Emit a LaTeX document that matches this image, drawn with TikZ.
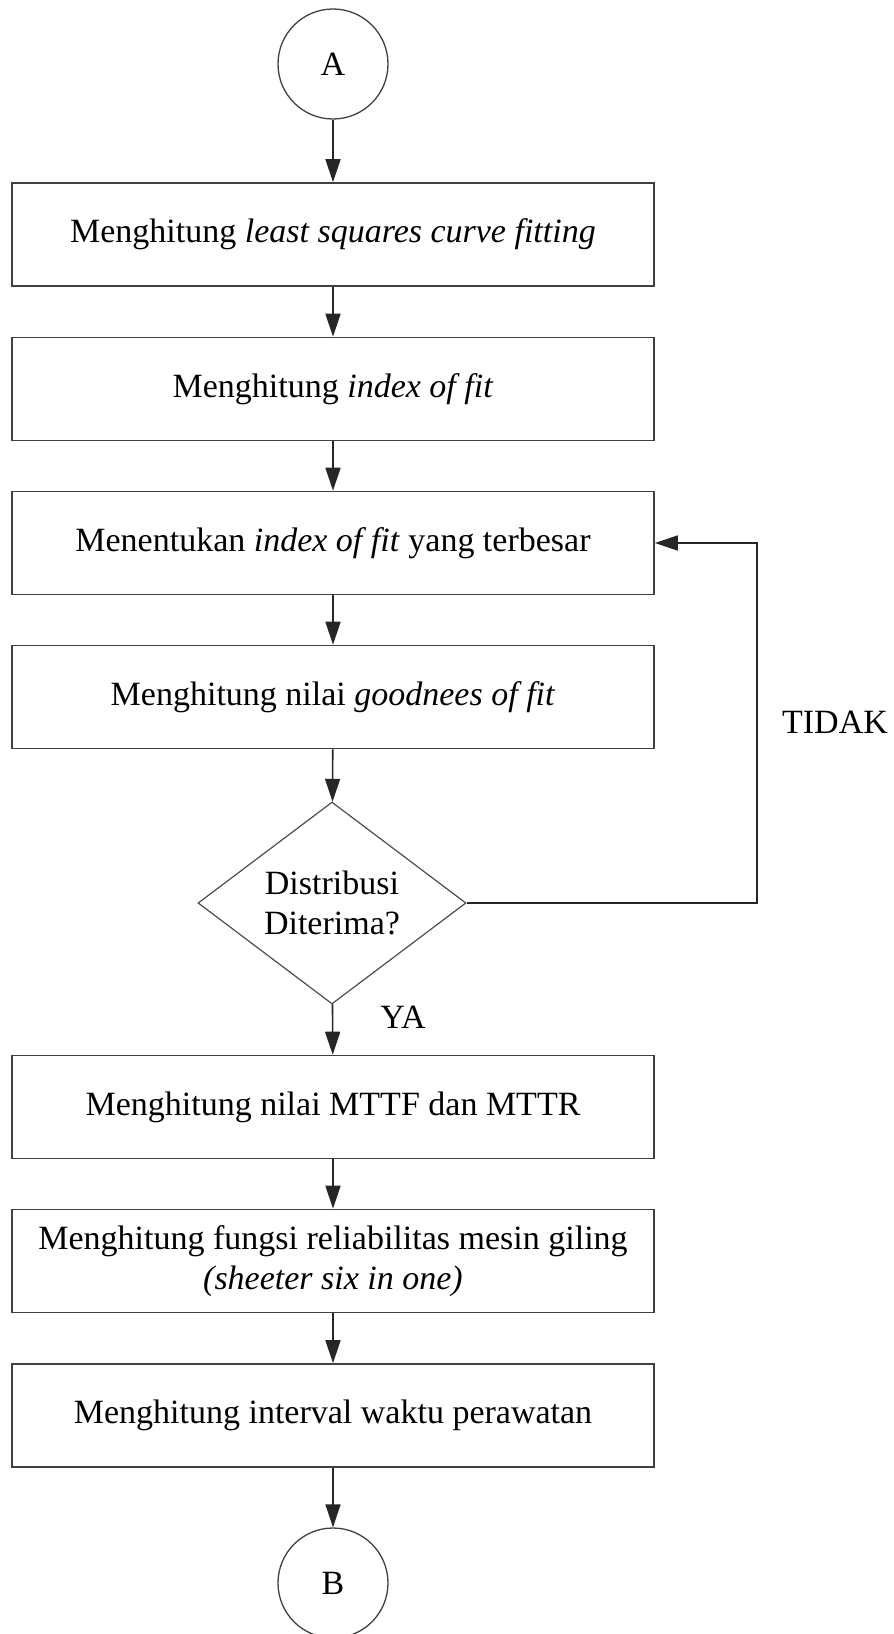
\documentclass[tikz,border=0pt]{standalone}
\usepackage{fontspec}
\setmainfont{Liberation Serif}
\usetikzlibrary{shapes.geometric,arrows.meta}
\begin{document}
\begin{tikzpicture}[x=1pt,y=-1pt,
  line/.style={draw=black!75,line width=1.6pt},
  txt/.style={font=\fontsize{34}{40}\selectfont},
  proc/.style={line,txt,rectangle,minimum width=642pt,minimum height=103pt,inner sep=0pt,align=center},
  conn/.style={draw=black!75,line width=1.3pt,txt,circle,minimum size=110pt,inner sep=0pt},
  dec/.style={draw=black!70,line width=1.2pt,txt,diamond,minimum width=268pt,minimum height=202pt,inner sep=0pt,aspect=1.33,align=center},
  arr/.style={draw=black!85,line width=1.6pt,-{Triangle[length=23pt,width=15pt]}},
  lbl/.style={txt,inner sep=0pt}]
\useasboundingbox (0,0) rectangle (894,1634);
\node[conn] (A) at (333,64) {A};
\node[proc] (b1) at (333,234.5) {Menghitung \textit{least squares curve fitting}};
\node[proc] (b2) at (333,389) {Menghitung \textit{index of fit}};
\node[proc] (b3) at (333,543) {Menentukan \textit{index of fit} yang terbesar};
\node[proc] (b4) at (333,697) {Menghitung nilai \textit{goodnees of fit}};
\node[dec] (d) at (332,903) {Distribusi\\Diterima?};
\node[proc] (b5) at (333,1107) {Menghitung nilai MTTF dan MTTR};
\node[proc] (b6) at (333,1261) {Menghitung fungsi reliabilitas mesin giling\\\textit{(sheeter six in one)}};
\node[proc] (b7) at (333,1415.5) {Menghitung interval waktu perawatan};
\node[conn] (B) at (333,1583) {B};
\node[lbl] (ya) at (403,1017) {YA};
\node[lbl] (tidak) at (835,722) {TIDAK};
\coordinate (c1) at (757,903);
\coordinate (c2) at (757,543);
\draw[arr] (A) -- (b1);
\draw[arr] (b1) -- (b2);
\draw[arr] (b2) -- (b3);
\draw[arr] (b3) -- (b4);
\draw[arr] (b4) -- (d);
\draw[arr] (d) -- (b5);
\draw[arr] (b5) -- (b6);
\draw[arr] (b6) -- (b7);
\draw[arr] (b7) -- (B);
\draw[arr] (d.east) -- (c1) -- (c2) -- (b3.east);
\end{tikzpicture}
\end{document}
